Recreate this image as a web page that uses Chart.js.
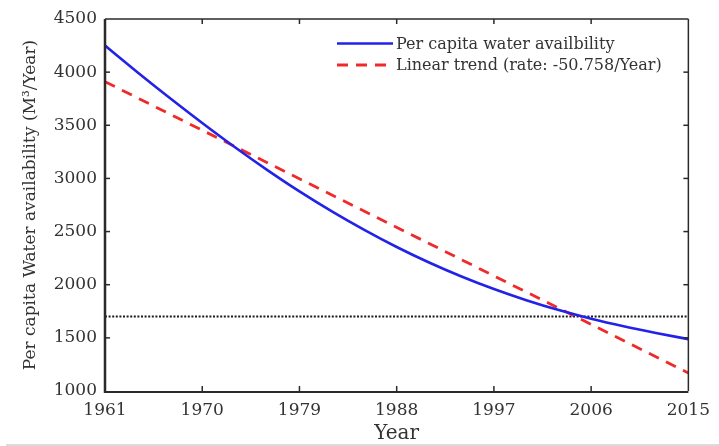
<!DOCTYPE html>
<html>
<head>
<meta charset="utf-8">
<script src="https://cdn.jsdelivr.net/npm/chart.js@4/dist/chart.umd.min.js"></script>
<style>
  html, body { margin: 0; padding: 0; background: #ffffff; }
  #wrap { width: 719px; height: 446px; position: relative; }
</style>
</head>
<body>
<div id="wrap"><canvas id="c" width="719" height="446"></canvas></div>
<script>
// Per capita water availability, m³ per year
const years = [1961, 1964, 1967, 1970, 1973, 1976, 1979, 1982, 1985, 1988,
               1991, 1994, 1997, 2000, 2003, 2006, 2009, 2012, 2015];
const perCapita = [4250, 4000, 3757, 3522, 3296, 3081, 2878, 2690, 2516, 2355,
                   2209, 2077, 1959, 1854, 1761, 1680, 1609, 1546, 1488];

// Fitted linear trend (end points)
const trendYears = [1961, 2015];
const trendValues = [3910, 1170];

// Water stress threshold
const thresholdYears = [1961, 2015];
const thresholdValues = [1700, 1700];

const xTickYears = [1961, 1970, 1979, 1988, 1997, 2006, 2015];
const yTickValues = [1000, 1500, 2000, 2500, 3000, 3500, 4000, 4500];

const seriesLabels = ['Per capita water availbility', 'Linear trend (rate: -50.758/Year)'];
const xTitle = 'Year';
const yTitle = 'Per capita Water availability (M³/Year)';

const FONT = '"DejaVu Serif", "Liberation Serif", serif';
const TEXT = '#333333';
const BLUE = '#2222e8';
const RED = '#f02a2a';

const toXY = (xs, ys) => xs.map((x, i) => ({ x: x, y: ys[i] }));

// Box frame with inward tick marks on all four sides
const framePlugin = {
  id: 'frame',
  afterDraw(chart) {
    const { ctx, chartArea: { left, right, top, bottom }, scales: { x, y } } = chart;
    ctx.save();
    ctx.strokeStyle = '#2a2a2a';
    const seg = (x1, y1, x2, y2, w) => {
      ctx.lineWidth = w;
      ctx.beginPath(); ctx.moveTo(x1, y1); ctx.lineTo(x2, y2); ctx.stroke();
    };
    seg(left, top, right, top, 1.5);
    seg(right, top, right, bottom, 1.5);
    seg(left, bottom + 1, right, bottom + 1, 2);
    seg(left, top, left, bottom + 2, 2.5);
    x.ticks.forEach(t => {
      const px = x.getPixelForValue(t.value);
      if (px <= left + 1 || px >= right - 1) return;
      seg(px, bottom, px, bottom - 5, 1.5);
      seg(px, top, px, top + 5, 1.5);
    });
    y.ticks.forEach(t => {
      const py = y.getPixelForValue(t.value);
      if (py <= top + 1 || py >= bottom - 1) return;
      seg(left, py, left + 5, py, 1.5);
      seg(right, py, right - 5, py, 1.5);
    });
    // thin rule along the bottom of the figure
    ctx.strokeStyle = '#cfcfcf';
    seg(6, 445, 719, 445, 1.5);
    ctx.restore();
  }
};

// Legend inside the plot, top right, without a box
const legendPlugin = {
  id: 'insideLegend',
  afterDraw(chart) {
    const { ctx } = chart;
    ctx.save();
    ctx.font = '16px ' + FONT;
    ctx.textBaseline = 'middle';
    ctx.textAlign = 'left';
    const rows = [43.5, 65];
    chart.data.datasets.forEach((ds, i) => {
      if (i >= seriesLabels.length) return;
      const yy = rows[i];
      ctx.strokeStyle = ds.borderColor;
      ctx.lineWidth = ds.borderWidth;
      ctx.setLineDash(ds.borderDash || []);
      ctx.beginPath(); ctx.moveTo(337, yy); ctx.lineTo(393, yy); ctx.stroke();
      ctx.setLineDash([]);
      ctx.fillStyle = TEXT;
      ctx.fillText(ds.label, 396, yy + 1);
    });
    ctx.restore();
  }
};

new Chart(document.getElementById('c'), {
  type: 'line',
  data: {
    datasets: [
      {
        label: seriesLabels[0],
        data: toXY(years, perCapita),
        borderColor: BLUE,
        borderWidth: 2.6,
        pointRadius: 0,
        cubicInterpolationMode: 'monotone',
        fill: false
      },
      {
        label: seriesLabels[1],
        data: toXY(trendYears, trendValues),
        borderColor: RED,
        borderWidth: 2.8,
        borderDash: [11, 8],
        pointRadius: 0,
        fill: false
      },
      {
        label: 'threshold',
        data: toXY(thresholdYears, thresholdValues),
        borderColor: '#1a1a1a',
        borderWidth: 2,
        borderDash: [2, 1.6],
        pointRadius: 0,
        fill: false
      }
    ]
  },
  options: {
    responsive: false,
    animation: false,
    devicePixelRatio: 1,
    layout: { padding: { top: 19, right: 25, left: 0, bottom: 0 } },
    plugins: { legend: { display: false }, tooltip: { enabled: false } },
    scales: {
      x: {
        type: 'linear',
        min: 1961,
        max: 2015,
        afterBuildTicks: s => { s.ticks = xTickYears.map(v => ({ value: v })); },
        afterFit: s => { s.height = 55; },
        grid: { display: false, drawTicks: false },
        border: { display: false },
        ticks: {
          autoSkip: false, maxRotation: 0, padding: 9, color: TEXT,
          font: { family: FONT, size: 17 },
          callback: v => String(v)
        },
        title: {
          display: true, text: xTitle, color: TEXT,
          font: { family: FONT, size: 20 },
          padding: { top: 0, bottom: 0 }
        }
      },
      y: {
        type: 'linear',
        min: 1000,
        max: 4500,
        afterBuildTicks: s => { s.ticks = yTickValues.map(v => ({ value: v })); },
        afterFit: s => { s.width = 105; },
        grid: { display: false, drawTicks: false },
        border: { display: false },
        ticks: {
          padding: 8, color: TEXT,
          font: { family: FONT, size: 17 },
          callback: v => String(v)
        },
        title: {
          display: true, text: yTitle, color: TEXT,
          font: { family: FONT, size: 17 },
          padding: { top: 20, bottom: 0 }
        }
      }
    }
  },
  plugins: [framePlugin, legendPlugin]
});
</script>
</body>
</html>
